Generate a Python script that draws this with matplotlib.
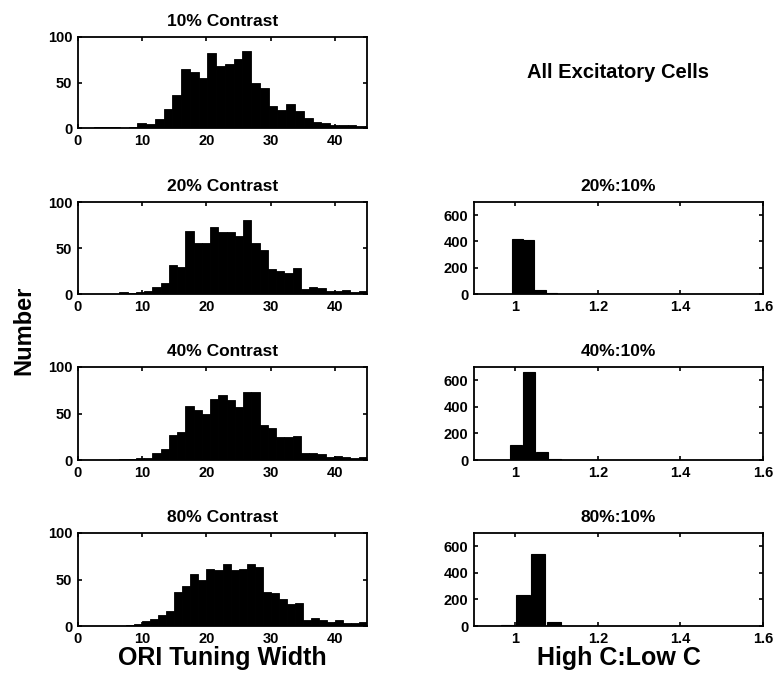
import numpy as np
import matplotlib
matplotlib.use("Agg")
import matplotlib.pyplot as plt

plt.rcParams['font.family'] = ['Liberation Sans', 'DejaVu Sans']
plt.rcParams['font.weight'] = 'bold'

# ---- data: ORI tuning width histograms ----
contrast_titles = ["10% Contrast", "20% Contrast", "40% Contrast", "80% Contrast"]
bin_start = [-0.3, 0.0, 0.0, 0.0]
bin_width = [45 / 33, 45 / 35, 45 / 35, 45 / 36]
counts_10 = [0, 0, 1, 1, 1, 0, 1, 5, 4, 10, 21, 36, 65, 62, 55, 82, 68, 70, 76, 85,
             49, 44, 24, 20, 26, 19, 11, 7, 6, 3, 3, 3, 2, 2]
counts_20 = [0, 0, 0, 0, 0, 2, 1, 2, 3, 8, 12, 31, 29, 68, 55, 55, 73, 67, 67, 63,
             80, 55, 48, 27, 25, 23, 28, 5, 8, 7, 3, 3, 4, 2, 3]
counts_40 = [0, 0, 0, 0, 0, 1, 1, 2, 2, 7, 12, 27, 30, 58, 54, 50, 66, 70, 65, 57,
             73, 73, 38, 34, 25, 25, 26, 7, 7, 6, 3, 4, 3, 2, 3]
counts_80 = [0, 0, 0, 0, 0, 0, 1, 2, 5, 7, 12, 16, 37, 43, 56, 49, 61, 60, 67, 60,
             61, 67, 63, 37, 35, 29, 24, 25, 6, 9, 6, 4, 6, 3, 3, 4]
left_counts = [counts_10, counts_20, counts_40, counts_80]
left_xticks = [0, 10, 20, 30, 40]
left_yticks = [0, 50, 100]

# ---- data: High C : Low C ratio histograms ----
ratio_titles = ["20%:10%", "40%:10%", "80%:10%"]
ratio_centers_20 = [1.005, 1.032, 1.060, 1.088]
ratio_counts_20 = [420, 408, 30, 4]
ratio_width_20 = 0.027
ratio_centers_40 = [1.002, 1.033, 1.065, 1.096]
ratio_counts_40 = [115, 665, 57, 8]
ratio_width_40 = 0.028
ratio_centers_80 = [0.982, 1.018, 1.055, 1.093, 1.13]
ratio_counts_80 = [10, 232, 540, 32, 3]
ratio_width_80 = 0.034
ratio_centers = [ratio_centers_20, ratio_centers_40, ratio_centers_80]
ratio_counts = [ratio_counts_20, ratio_counts_40, ratio_counts_80]
ratio_widths = [ratio_width_20, ratio_width_40, ratio_width_80]
right_xticks = [1, 1.2, 1.4, 1.6]
right_xticklabels = ["1", "1.2", "1.4", "1.6"]
right_yticks = [0, 200, 400, 600]

W, H = 775, 674
fig = plt.figure(figsize=(W / 100, H / 100), dpi=100)

rows_px = [(37, 128), (202, 294), (367, 460), (533, 626)]
left_px = (78, 367)
right_px = (474, 763)


def make_ax(xpx, ypx):
    l = xpx[0] / W
    w = (xpx[1] - xpx[0]) / W
    b = 1 - ypx[1] / H
    h = (ypx[1] - ypx[0]) / H
    return fig.add_axes([l, b, w, h])


def style(ax):
    for s in ax.spines.values():
        s.set_linewidth(1.3)
    ax.tick_params(direction='in', length=3, width=1.2, top=True, right=True,
                   labelsize=10.5, pad=4)
    for lab in ax.get_xticklabels() + ax.get_yticklabels():
        lab.set_fontweight('bold')


for i in range(4):
    ax = make_ax(left_px, rows_px[i])
    counts = np.array(left_counts[i])
    edges = bin_start[i] + bin_width[i] * np.arange(len(counts) + 1)
    ax.bar(edges[:-1], counts, width=bin_width[i], align='edge',
           color='black', edgecolor='black', linewidth=0.6)
    ax.set_xlim(0, 45)
    ax.set_ylim(0, 100)
    ax.set_xticks(left_xticks)
    ax.set_yticks(left_yticks)
    ax.set_title(contrast_titles[i], fontsize=12.5, fontweight='bold', pad=8)
    style(ax)
    if i == 3:
        ax.set_xlabel("ORI Tuning Width", fontsize=18, fontweight='bold', labelpad=0)

for j in range(3):
    ax = make_ax(right_px, rows_px[j + 1])
    ax.bar(ratio_centers[j], ratio_counts[j], width=ratio_widths[j],
           color='black', edgecolor='black', linewidth=0.8)
    ax.set_xlim(0.9, 1.6)
    ax.set_ylim(0, 700)
    ax.set_xticks(right_xticks)
    ax.set_xticklabels(right_xticklabels)
    ax.set_yticks(right_yticks)
    ax.set_title(ratio_titles[j], fontsize=12.5, fontweight='bold', pad=8)
    style(ax)
    if j == 2:
        ax.set_xlabel("High C:Low C", fontsize=18, fontweight='bold', labelpad=0)

fig.text(618 / W, 1 - 73 / H, "All Excitatory Cells", ha='center', va='center',
         fontsize=14.5, fontweight='bold')
fig.text(24 / W, 1 - 330 / H, "Number", ha='center', va='center', rotation=90,
         fontsize=17, fontweight='bold')

fig.savefig("out.png", dpi=100)
